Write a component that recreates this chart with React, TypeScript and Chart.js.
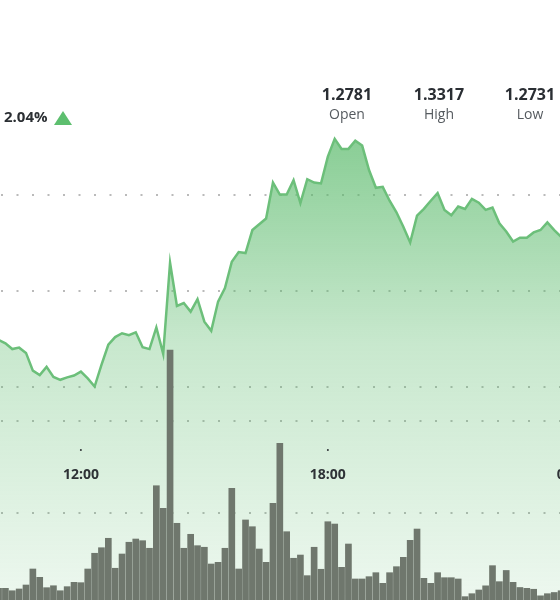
import React, { useEffect, useRef } from "react";
import { Chart, registerables } from "chart.js";

Chart.register(...registerables);

// 10-minute slots (local time)
const TIMES: string[] = [
  "09:50",
  "10:00", "10:10", "10:20", "10:30", "10:40", "10:50",
  "11:00", "11:10", "11:20", "11:30", "11:40", "11:50",
  "12:00", "12:10", "12:20", "12:30", "12:40", "12:50",
  "13:00", "13:10", "13:20", "13:30", "13:40", "13:50",
  "14:00", "14:10", "14:20", "14:30", "14:40", "14:50",
  "15:00", "15:10", "15:20", "15:30", "15:40", "15:50",
  "16:00", "16:10", "16:20", "16:30", "16:40", "16:50",
  "17:00", "17:10", "17:20", "17:30", "17:40", "17:50",
  "18:00", "18:10", "18:20", "18:30", "18:40", "18:50",
  "19:00", "19:10", "19:20", "19:30", "19:40", "19:50",
  "20:00", "20:10", "20:20", "20:30", "20:40", "20:50",
  "21:00", "21:10", "21:20", "21:30", "21:40", "21:50",
  "22:00", "22:10", "22:20", "22:30", "22:40", "22:50",
  "23:00", "23:10", "23:20", "23:30", "23:40", "23:50",
];

const PRICE: number[] = [
  1.2902,
  1.2898, 1.2891, 1.2879, 1.2882, 1.2871, 1.2834,
  1.2825, 1.2842, 1.2821, 1.2815, 1.282, 1.2824,
  1.2832, 1.2818, 1.2801, 1.2846, 1.2888, 1.2904,
  1.2912, 1.2908, 1.2914, 1.2883, 1.2879, 1.2924,
  1.2869, 1.3059, 1.2969, 1.2975, 1.2957, 1.2983,
  1.2936, 1.2917, 1.2978, 1.3006, 1.3061, 1.3081,
  1.3079, 1.3127, 1.3139, 1.3151, 1.3226, 1.3201,
  1.3201, 1.3231, 1.3183, 1.3233, 1.3226, 1.3224,
  1.328, 1.3317, 1.3296, 1.3296, 1.3313, 1.3303,
  1.3252, 1.3215, 1.3217, 1.3188, 1.3164, 1.3134,
  1.3101, 1.3157, 1.3171, 1.3188, 1.3204, 1.3169,
  1.3158, 1.3176, 1.3171, 1.3192, 1.3184, 1.3169,
  1.3174, 1.3141, 1.3124, 1.3103, 1.3111, 1.3111,
  1.3122, 1.3127, 1.3143, 1.3127, 1.3113, 1.3096,
];

const VOLUME: number[] = [
  180,
  191, 191, 165, 184, 227, 400,
  310, 198, 219, 165, 209, 256,
  252, 400, 570, 630, 732, 408,
  562, 689, 724, 706, 624, 1300,
  1056, 2767, 894, 624, 775, 652,
  635, 454, 472, 624, 1272, 400,
  930, 857, 616, 472, 1110, 1759,
  803, 516, 551, 328, 635, 397,
  911, 886, 418, 670, 292, 292,
  317, 360, 245, 360, 425, 526,
  710, 832, 299, 245, 360, 306,
  306, 292, 101, 133, 173, 218,
  436, 263, 384, 256, 200, 191,
  181, 110, 133, 146, 165, 170,
];

const X_TICK_LABELS: string[] = ["12:00", "18:00", "00:00"];
const X_TICK_TIMES: number[] = [720, 1080, 1440];
const PRICE_GRID: number[] = [1.28, 1.3, 1.32];
const VOLUME_GRID: number[] = [1000, 2000];

const HEADER_STATS = [
  { value: "1.2781", label: "Open", cx: 347 },
  { value: "1.3317", label: "High", cx: 439 },
  { value: "1.2731", label: "Low", cx: 530 },
];
const CHANGE_TEXT = "2.04%";

const toMin = (s: string) => {
  const [h, m] = s.split(":").map(Number);
  return h * 60 + m;
};

const W = 560;
const H = 606;

export default function App() {
  const ref = useRef<HTMLCanvasElement | null>(null);

  useEffect(() => {
    if (!ref.current) return;
    const xs = TIMES.map(toMin);

    const labelPlugin = {
      id: "xlabels",
      afterDraw(chart: any) {
        const c = chart.ctx;
        const sx = chart.scales.x;
        c.save();
        c.font = 'bold 14px "Open Sans"';
        c.fillStyle = "#2e3236";
        c.textAlign = "center";
        c.textBaseline = "alphabetic";
        X_TICK_TIMES.forEach((t, i) => {
          const x = sx.getPixelForValue(t);
          c.fillText(X_TICK_LABELS[i], x, 479);
          c.beginPath();
          c.arc(x, 450, 1, 0, Math.PI * 2);
          c.fill();
        });
        c.restore();
      },
    };

    const chart = new Chart(ref.current, {
      type: "bar",
      data: {
        datasets: [
          {
            type: "line",
            label: "Price",
            data: xs.map((x, i) => ({ x, y: PRICE[i] })),
            yAxisID: "yp",
            borderColor: "#6cbf7a",
            borderWidth: 2.5,
            pointRadius: 0,
            tension: 0,
            fill: "start",
            order: 0,
            backgroundColor: (ctx: any) => {
              const { chart } = ctx;
              const area = chart.chartArea;
              if (!area) return "rgba(88,185,105,0.3)";
              const g = chart.ctx.createLinearGradient(0, 130, 0, area.bottom);
              g.addColorStop(0, "rgba(88,185,105,0.72)");
              g.addColorStop(0.45, "rgba(88,185,105,0.33)");
              g.addColorStop(1, "rgba(88,185,105,0.1)");
              return g;
            },
          } as any,
          {
            type: "bar",
            label: "Volume",
            data: xs.map((x, i) => ({ x, y: VOLUME[i] })),
            yAxisID: "yv",
            backgroundColor: "#6f776d",
            borderWidth: 0,
            barThickness: 6,
            order: 1,
          } as any,
        ],
      },
      options: {
        animation: false,
        responsive: false,
        devicePixelRatio: 1,
        layout: { padding: 0 },
        plugins: {
          legend: { display: false },
          tooltip: { enabled: false },
          filler: { drawTime: "beforeDatasetsDraw" } as any,
        },
        scales: {
          x: {
            type: "linear",
            min: 602.1,
            max: 1418.4,
            offset: false,
            display: false,
          },
          yp: {
            type: "linear",
            position: "left",
            min: 1.234375,
            max: 1.360625,
            afterBuildTicks: (s: any) => {
              s.ticks = PRICE_GRID.map((v) => ({ value: v }));
            },
            afterFit: (s: any) => {
              s.width = 0;
            },
            ticks: { display: false },
            grid: {
              color: "rgba(140,140,140,0.6)",
              lineWidth: 2,
              drawTicks: false,
            },
            border: { display: false, dash: [2, 13.5], dashOffset: -1 },
          } as any,
          yv: {
            type: "linear",
            position: "right",
            min: 0,
            max: 6550,
            afterBuildTicks: (s: any) => {
              s.ticks = VOLUME_GRID.map((v) => ({ value: v }));
            },
            afterFit: (s: any) => {
              s.width = 0;
            },
            ticks: { display: false },
            grid: {
              color: "rgba(140,140,140,0.6)",
              lineWidth: 2,
              drawTicks: false,
            },
            border: { display: false, dash: [2, 13.5], dashOffset: -1 },
          } as any,
        },
      },
      plugins: [labelPlugin],
    });
    return () => chart.destroy();
  }, []);

  const font = '"Open Sans", "DejaVu Sans", sans-serif';

  return (
    <div
      style={{
        position: "fixed",
        left: 0,
        top: 0,
        width: 560,
        height: 600,
        overflow: "hidden",
        background: "#fff",
        fontFamily: font,
      }}
    >
      <canvas
        ref={ref}
        width={W}
        height={H}
        style={{ position: "absolute", left: 0, top: 0, width: W, height: H }}
      />
      <div
        style={{
          position: "absolute",
          left: 4,
          top: 109,
          font: `bold 15px ${font}`,
          lineHeight: "15px",
          color: "#2b2f33",
          whiteSpace: "nowrap",
        }}
      >
        {CHANGE_TEXT}
      </div>
      <div
        style={{
          position: "absolute",
          left: 54,
          top: 111,
          width: 0,
          height: 0,
          borderLeft: "9px solid transparent",
          borderRight: "9px solid transparent",
          borderBottom: "14px solid #5dbf6f",
        }}
      />
      {HEADER_STATS.map((s) => (
        <React.Fragment key={s.label}>
          <div
            style={{
              position: "absolute",
              left: s.cx - 45,
              width: 90,
              top: 85.5,
              textAlign: "center",
              font: `bold 16px ${font}`,
              lineHeight: "16px",
              color: "#2a2e33",
            }}
          >
            {s.value}
          </div>
          <div
            style={{
              position: "absolute",
              left: s.cx - 45,
              width: 90,
              top: 107,
              textAlign: "center",
              font: `14px ${font}`,
              lineHeight: "14px",
              color: "#555a5f",
            }}
          >
            {s.label}
          </div>
        </React.Fragment>
      ))}
    </div>
  );
}
